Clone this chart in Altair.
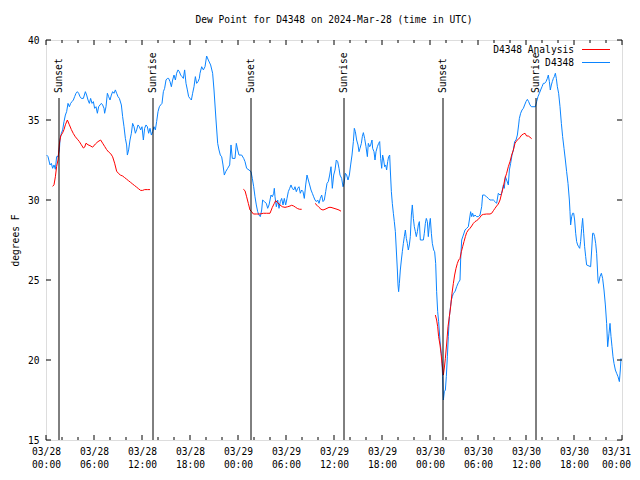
import altair as alt
import pandas as pd

# ---- data (hours since 2024-03-28 00:00 UTC, dew point in deg F) ----
obs_hours = [0.08,0.25,0.5,0.67,0.83,1.0,1.17,1.33,1.5,1.67,1.75,1.92,2.08,2.25,2.42,2.58,2.75,2.92,3.08,3.25,3.42,3.58,3.75,3.92,4.08,4.25,4.42,4.67,4.92,5.08,5.25,5.42,5.58,5.75,5.92,6.08,6.25,6.42,6.58,6.75,6.92,7.08,7.25,7.33,7.5,7.67,7.83,8.0,8.17,8.33,8.5,8.67,8.83,9.0,9.17,9.42,9.58,9.75,9.92,10.08,10.17,10.33,10.5,10.67,10.83,11.0,11.17,11.33,11.5,11.67,11.83,12.0,12.17,12.33,12.5,12.67,12.83,13.0,13.17,13.33,13.5,13.67,13.83,14.0,14.17,14.33,14.5,14.67,14.83,15.0,15.17,15.33,15.5,15.67,15.83,16.0,16.17,16.33,16.5,16.67,16.83,17.0,17.17,17.33,17.5,17.67,17.83,18.0,18.17,18.33,18.5,18.67,18.83,19.0,19.17,19.25,19.46,19.67,19.875,20.08,20.29,20.58,20.83,21.0,21.25,21.46,21.625,21.79,21.96,22.125,22.29,22.46,22.71,22.96,23.125,23.29,23.625,23.79,23.96,24.125,24.46,24.71,24.875,25.08,25.375,25.625,25.79,25.96,26.125,26.29,26.46,26.625,26.79,26.96,27.08,27.29,27.54,27.71,27.875,28.125,28.29,28.46,28.54,28.625,28.79,28.96,29.125,29.29,29.46,29.625,29.79,29.96,30.125,30.29,30.46,30.625,30.79,30.96,31.125,31.29,31.46,31.625,31.79,31.96,32.125,32.29,32.46,32.625,32.79,32.96,33.125,33.29,33.46,33.625,33.79,33.96,34.125,34.29,34.46,34.625,34.79,34.96,35.125,35.29,35.46,35.625,35.79,35.96,36.125,36.29,36.46,36.625,36.75,36.96,37.125,37.25,37.42,37.58,37.75,37.92,38.08,38.25,38.42,38.54,38.67,38.83,39.0,39.125,39.25,39.42,39.54,39.67,39.83,40.0,40.17,40.29,40.46,40.58,40.75,40.83,41.0,41.125,41.25,41.42,41.58,41.71,41.83,41.96,42.08,42.21,42.33,42.46,42.58,42.71,42.83,42.96,43.04,43.17,43.29,43.42,43.54,43.67,43.79,43.92,44.0,44.08,44.17,44.29,44.42,44.54,44.67,44.79,44.92,45.04,45.17,45.29,45.42,45.54,45.67,45.79,45.92,46.04,46.17,46.29,46.42,46.54,46.67,46.79,47.17,47.29,47.42,47.54,47.67,47.79,47.92,48.04,48.17,48.29,48.46,48.58,48.71,48.83,48.96,49.08,49.25,49.46,49.58,49.67,49.79,49.92,50.04,50.17,50.29,50.42,50.54,50.67,50.79,50.92,51.125,51.33,51.54,51.75,51.83,51.96,52.17,52.375,52.58,52.79,52.92,53.08,53.21,53.33,53.46,53.625,53.83,54.04,54.25,54.46,54.58,54.79,55.08,55.29,55.5,55.71,55.92,56.125,56.33,56.54,56.75,56.96,57.17,57.29,57.42,57.58,57.79,57.92,58.08,58.25,58.42,58.58,58.75,58.92,59.08,59.17,59.33,59.5,59.67,59.83,60.0,60.17,60.33,60.5,60.67,61.17,61.33,61.5,61.67,61.83,62.0,62.17,62.33,62.5,62.67,62.79,62.92,63.04,63.17,63.29,63.42,63.54,63.67,63.79,63.92,64.08,64.25,64.42,64.58,64.75,64.92,65.08,65.25,65.42,65.5,65.58,65.71,65.83,65.96,66.08,66.21,66.33,66.46,66.58,66.71,66.83,66.96,67.08,67.21,67.33,67.46,67.58,68.08,68.21,68.33,68.46,68.58,68.71,68.83,69.0,69.08,69.25,69.42,69.58,69.75,69.92,70.08,70.21,70.375,70.5,70.625,70.75,70.875,71.0,71.17,71.33,71.5,71.67,71.79,71.875]
obs_dewpt = [32.81,32.71,32.19,32.29,31.98,32.19,31.92,32.71,32.71,33.13,33.75,34.17,34.38,34.9,35.31,35.52,36.04,35.83,36.04,36.15,36.25,36.46,36.67,36.77,36.67,36.46,36.35,36.35,36.77,36.56,36.25,36.04,36.35,36.04,36.15,35.73,35.83,35.42,35.83,35.94,36.04,35.94,35.73,35.42,35.83,36.67,36.46,36.25,36.56,36.77,36.67,36.88,36.67,36.46,36.35,35.94,35.21,34.58,33.85,33.44,32.81,33.13,33.75,34.17,34.79,34.58,34.17,34.38,34.69,34.58,34.38,34.58,33.75,34.48,34.69,34.58,34.17,34.48,34.06,34.27,34.58,34.38,34.9,35.52,35.83,35.94,36.04,36.77,36.98,37.5,37.6,37.6,37.4,37.08,37.5,37.81,37.5,37.92,38.13,38.02,37.81,37.71,37.6,38.13,37.29,36.88,36.46,36.35,36.25,36.67,37.08,37.71,37.29,37.4,37.6,37.92,38.33,38.13,38.33,39.0,38.75,38.44,37.92,36.875,35.0,33.54,33.125,32.81,32.7,32.19,31.56,31.77,31.98,32.19,33.44,32.6,32.6,33.54,33.125,32.81,32.81,32.6,32.4,31.98,31.875,31.77,31.35,30.83,30.2,29.69,29.27,29.06,28.96,29.375,30.0,29.9,29.79,29.48,29.69,30.31,30.2,30.42,30.73,30.2,29.58,30.0,29.48,29.9,30.1,29.69,30.1,29.69,30.1,30.52,30.73,30.94,30.73,30.625,30.83,30.52,30.73,30.83,30.42,30.625,30.52,30.1,30.94,31.56,31.25,30.94,30.625,30.42,30.2,30.0,29.9,30.0,29.79,30.1,30.31,29.9,30.0,30.52,31.04,31.15,31.56,32.08,30.73,31.56,31.875,32.5,32.4,31.98,31.56,31.35,30.83,31.04,31.67,31.56,31.25,31.56,32.19,32.81,33.65,34.48,34.27,33.75,33.44,33.02,33.23,33.54,33.96,34.21,33.85,33.33,32.71,33.54,33.33,33.44,33.75,33.23,33.02,32.5,33.02,33.33,33.54,33.65,32.6,31.98,32.81,32.5,32.08,32.19,31.875,32.4,32.71,32.81,31.875,30.52,29.79,29.17,28.65,28.02,26.875,25.625,24.69,24.27,24.79,25.625,26.25,26.77,27.29,27.71,28.125,27.6,27.29,26.875,27.19,27.71,29.06,29.69,28.85,28.33,28.02,27.71,28.02,28.44,28.65,27.5,27.5,27.92,28.54,28.85,28.65,27.71,28.44,28.85,27.92,27.29,26.875,26.77,26.04,24.27,23.02,22.4,21.2,20.2,18.96,17.5,18.02,18.125,18.96,20.2,21.46,22.71,23.23,23.75,23.96,24.17,24.27,24.58,24.83,25.0,26.25,27.5,27.81,28.125,28.23,28.33,28.75,29.27,28.96,29.17,28.96,29.06,28.96,28.96,29.06,29.58,30.31,30.31,30.2,30.1,30.0,30.0,30.0,29.9,29.79,30.42,30.31,30.42,30.94,30.73,31.46,31.25,30.94,31.875,32.29,32.81,33.125,33.65,33.75,34.06,34.69,35.1,35.42,35.625,35.73,35.94,36.15,36.29,36.15,35.94,35.83,35.83,36.15,36.46,36.67,36.875,37.08,37.29,37.29,37.4,37.6,37.81,37.4,36.875,37.19,37.4,37.6,37.71,37.92,37.6,37.08,36.67,35.83,34.79,33.96,33.23,32.5,31.77,31.04,30.0,29.27,28.44,28.96,29.17,29.17,28.75,27.92,27.4,27.19,27.08,26.98,27.4,28.23,28.85,27.92,27.08,26.46,25.94,25.83,26.875,27.92,27.92,27.71,27.29,26.67,25.0,24.79,25.21,25.42,25.1,24.375,23.44,22.29,20.83,21.67,22.29,21.46,20.83,20.2,19.79,19.375,19.17,18.96,18.65,19.375,20.1]

ana1_hours = [0.83,1.0,1.17,1.33,1.5,1.67,1.83,2.08,2.25,2.42,2.67,2.92,3.17,3.42,3.67,3.92,4.17,4.42,4.67,4.83,5.0,5.25,5.5,5.83,6.17,6.5,6.83,7.08,7.33,7.58,7.83,8.08,8.33,8.58,8.83,9.08,9.33,9.58,9.83,10.08,10.33,10.58,10.83,11.08,11.33,11.58,11.83,12.08,12.33,12.67,13.0]
ana1_dewpt = [30.85,30.95,31.45,32.1,32.5,33.5,34.0,34.2,34.4,34.7,35.0,34.7,34.4,34.15,33.95,33.8,33.65,33.45,33.25,33.3,33.55,33.45,33.4,33.3,33.5,33.65,33.75,33.55,33.35,33.15,33.0,32.9,32.7,32.3,31.8,31.65,31.55,31.5,31.4,31.3,31.2,31.1,31.0,30.9,30.8,30.7,30.6,30.6,30.65,30.65,30.65]
ana2_hours = [24.67,24.875,25.08,25.29,25.5,25.71,25.92,26.33,26.75,27.17,27.58,28.0,28.29,28.54,28.71,28.96,29.25,29.54,29.875,30.21,30.5,30.71,30.96,31.21,31.46,31.71,31.96]
ana2_dewpt = [30.67,30.58,30.2,29.79,29.375,29.27,29.125,29.125,29.125,29.17,29.17,29.17,29.54,29.79,29.96,29.83,29.69,29.58,29.54,29.58,29.625,29.67,29.625,29.54,29.46,29.42,29.42]
ana3_hours = [33.625,33.875,34.125,34.375,34.625,34.875,35.125,35.375,35.625,35.875,36.125,36.375,36.625,36.875]
ana3_dewpt = [29.79,29.67,29.54,29.42,29.375,29.42,29.48,29.54,29.54,29.5,29.46,29.42,29.375,29.3]
ana4_hours = [48.67,48.83,48.96,49.08,49.25,49.375,49.5,49.67,49.79,49.92,50.08,50.25,50.42,50.58,50.75,50.92,51.08,51.25,51.42,51.58,51.75,51.92,52.08,52.25,52.42,52.58,52.79,53.0,53.21,53.42,53.625,53.83,54.04,54.25,54.46,54.67,55.08,55.5,55.71,55.92,56.125,56.33,56.54,56.75,56.96,57.17,57.375,57.58,57.79,58.0,58.21,58.42,58.625,58.83,59.04,59.25,59.46,59.67,59.875,60.08,60.29,60.5,60.71]
ana4_dewpt = [22.81,22.5,22.08,21.46,20.94,20.42,19.79,19.06,19.5,20.1,21.0,22.08,22.71,23.33,24.17,24.79,25.31,25.73,26.04,26.25,26.35,26.77,27.08,27.4,27.71,27.96,28.125,28.23,28.375,28.54,28.65,28.71,28.79,28.92,29.06,29.1,29.125,29.125,29.17,29.33,29.48,29.625,29.75,30.0,30.42,30.83,31.35,31.67,32.08,32.4,32.81,33.125,33.54,33.71,33.79,33.92,34.06,34.125,34.17,34.0,34.0,33.92,33.83]

sun_hours = [1.625, 13.375, 25.625, 37.25, 49.625, 61.25]
sun_labels = ["Sunset", "Sunrise", "Sunset", "Sunrise", "Sunset", "Sunrise"]

x_tick_values = [0, 6, 12, 18, 24, 30, 36, 42, 48, 54, 60, 66, 72]
x_minor_values = [h for h in range(0, 73, 2) if h % 6 != 0]
y_tick_values = [15, 20, 25, 30, 35, 40]

legend_labels = ["D4348 Analysis", "D4348"]
title_text = "Dew Point for D4348 on 2024-Mar-28 (time in UTC)"
y_title = "degrees F"

BLUE = "#0a84ff"
RED = "#ff0000"
FONT = "DejaVu Sans Mono"
FS = 9.6
W, H = 576, 400

obs_df = pd.DataFrame({"h": obs_hours, "v": obs_dewpt})
ana_df = pd.concat([
    pd.DataFrame({"h": hh, "v": vv, "seg": i})
    for i, (hh, vv) in enumerate([(ana1_hours, ana1_dewpt), (ana2_hours, ana2_dewpt),
                                  (ana3_hours, ana3_dewpt), (ana4_hours, ana4_dewpt)])
])
sun_df = pd.DataFrame({"h": sun_hours, "label": sun_labels})
xmaj_df = pd.DataFrame({"h": x_tick_values})
xmin_df = pd.DataFrame({"h": x_minor_values})
ytick_df = pd.DataFrame({"v": y_tick_values})
one_df = pd.DataFrame({"k": [0]})

xscale = alt.Scale(domain=[0, 72], nice=False, zero=False)
yscale = alt.Scale(domain=[15, 40], nice=False, zero=False)

label_expr = ("['03/' + (28 + floor(datum.value / 24)), "
              "((datum.value % 24) < 10 ? '0' : '') + (datum.value % 24) + ':00']")
xaxis = alt.Axis(values=x_tick_values, labelExpr=label_expr, ticks=False, tickSize=0,
                 domain=False, grid=False, title=None, labelFont=FONT, labelFontSize=FS,
                 labelColor="black", labelPadding=6, labelLineHeight=13,
                 labelBaseline="top", labelFlush=False, labelOverlap=False,
                 labelOffset={"condition": {"test": "datum.value == 72", "value": -6}, "value": 0})
yaxis = alt.Axis(values=y_tick_values, ticks=False, tickSize=0, domain=False, grid=False,
                 title=y_title, titleFont=FONT, titleFontSize=FS, titleFontWeight="normal",
                 titleColor="black", titlePadding=7, labelFont=FONT, labelFontSize=FS,
                 labelColor="black", labelPadding=7)

def X(field):
    return alt.X(field, type="quantitative", scale=xscale, axis=xaxis)

def Y(field):
    return alt.Y(field, type="quantitative", scale=yscale, axis=yaxis)

obs_line = alt.Chart(obs_df).mark_line(color=BLUE, strokeWidth=1).encode(x=X("h"), y=Y("v"))
ana_line = alt.Chart(ana_df).mark_line(color=RED, strokeWidth=1).encode(
    x=X("h"), y=Y("v"), detail="seg:N")

sun_rule = alt.Chart(sun_df).mark_rule(color="black", strokeWidth=1).encode(
    x=X("h"), y=alt.value(58), y2=alt.value(H))
sun_text = alt.Chart(sun_df).mark_text(angle=270, align="left", baseline="middle",
                                       font=FONT, fontSize=FS, color="black").encode(
    x=X("h"), y=alt.value(53), text="label:N")

tick_style = dict(color="black", strokeWidth=1)
bot_maj = alt.Chart(xmaj_df).mark_rule(**tick_style).encode(x=X("h"), y=alt.value(H), y2=alt.value(H - 5))
bot_min = alt.Chart(xmin_df).mark_rule(**tick_style).encode(x=X("h"), y=alt.value(H), y2=alt.value(H - 3))
top_maj = alt.Chart(xmaj_df).mark_rule(**tick_style).encode(x=X("h"), y=alt.value(0), y2=alt.value(5))
top_min = alt.Chart(xmin_df).mark_rule(**tick_style).encode(x=X("h"), y=alt.value(0), y2=alt.value(3))
left_t = alt.Chart(ytick_df).mark_rule(**tick_style).encode(y=Y("v"), x=alt.value(0), x2=alt.value(5))
right_t = alt.Chart(ytick_df).mark_rule(**tick_style).encode(y=Y("v"), x=alt.value(W - 5), x2=alt.value(W))

leg_text1 = alt.Chart(one_df).mark_text(align="right", baseline="middle", font=FONT, fontSize=FS,
                                        color="black", text=legend_labels[0]).encode(
    x=alt.value(528), y=alt.value(10))
leg_text2 = alt.Chart(one_df).mark_text(align="right", baseline="middle", font=FONT, fontSize=FS,
                                        color="black", text=legend_labels[1]).encode(
    x=alt.value(528), y=alt.value(22.5))
leg_line1 = alt.Chart(one_df).mark_rule(color=RED, strokeWidth=1).encode(
    x=alt.value(536), x2=alt.value(564), y=alt.value(9.5))
leg_line2 = alt.Chart(one_df).mark_rule(color=BLUE, strokeWidth=1).encode(
    x=alt.value(536), x2=alt.value(564), y=alt.value(22.5))

chart = alt.layer(
    obs_line, ana_line, sun_rule, sun_text,
    bot_maj, bot_min, top_maj, top_min, left_t, right_t,
    leg_text1, leg_text2, leg_line1, leg_line2,
).properties(
    width=W, height=H,
    title=alt.TitleParams(title_text, font=FONT, fontSize=FS, fontWeight="normal",
                          color="black", anchor="middle", offset=10),
    autosize=alt.AutoSizeParams(type="none"),
    padding={"left": 38, "top": 32, "right": 10, "bottom": 40},
).configure_view(stroke="black", strokeWidth=1).configure(background="white")

chart.save("out.html", embed_options={"renderer": "svg", "actions": False})
